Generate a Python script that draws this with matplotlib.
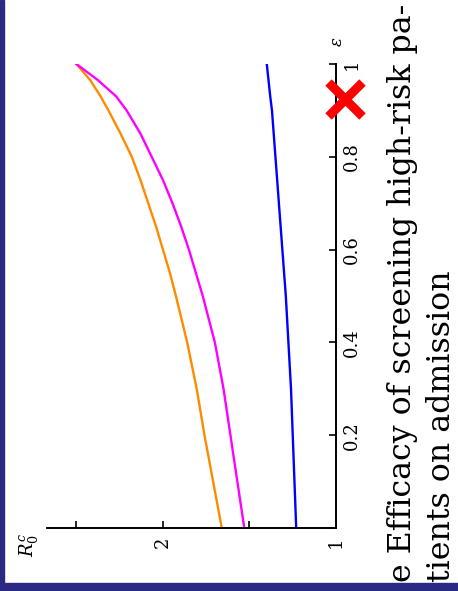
import matplotlib
matplotlib.use("Agg")
import matplotlib.pyplot as plt
from matplotlib.ticker import FixedLocator, NullFormatter

# Screening efficacy (epsilon) and the resulting control reproduction number
epsilon = [0.0, 0.1, 0.2, 0.3, 0.4, 0.5, 0.55, 0.6, 0.65, 0.7, 0.75, 0.8,
           0.85, 0.9, 0.93, 0.965, 1.0]
r0c_orange = [1.66, 1.71, 1.76, 1.805, 1.86, 1.925, 1.96, 2.00, 2.04, 2.085,
              2.13, 2.18, 2.245, 2.315, 2.36, 2.42, 2.50]
r0c_magenta = [1.53, 1.57, 1.61, 1.65, 1.70, 1.77, 1.81, 1.85, 1.895, 1.945,
               2.00, 2.065, 2.13, 2.21, 2.27, 2.375, 2.50]
r0c_blue = [1.23, 1.24, 1.25, 1.26, 1.275, 1.29, 1.30, 1.31, 1.32, 1.33,
            1.34, 1.35, 1.36, 1.37, 1.38, 1.39, 1.40]

r_major = [1, 2]
r_minor = [1.5, 2.5]
eps_ticks = [0.2, 0.4, 0.6, 0.8, 1.0]
eps_labels = ["0.2", "0.4", "0.6", "0.8", "1"]
marked_eps = 0.925

caption_1 = "e Efficacy of screening high-risk pa-"
caption_2 = "tients on admission"

plt.rcParams["font.family"] = "serif"
plt.rcParams["font.serif"] = ["DejaVu Serif", "Liberation Serif"]
plt.rcParams["mathtext.fontset"] = "dejavuserif"

W, H = 458, 591
fig = plt.figure(figsize=(W / 100, H / 100), dpi=100)
fig.patch.set_facecolor("white")

# dark frame on the left and bottom edges
navy = "#2a2a84"
fig.add_artist(plt.Rectangle((0, 0), 4 / W, 1, transform=fig.transFigure,
                             color=navy, zorder=0))
fig.add_artist(plt.Rectangle((0, 0), 1, 8 / H, transform=fig.transFigure,
                             color=navy, zorder=0))

# the plot is laid on its side: R0c runs right-to-left, epsilon bottom-to-top
left, right = 47 / W, 336 / W
bottom, top = 1 - 528 / H, 1 - 64 / H
ax = fig.add_axes([left, bottom, right - left, top - bottom])
ax.set_facecolor("white")

lw = 1.7
ax.plot(r0c_orange, epsilon, color="#ff8a00", lw=lw)
ax.plot(r0c_magenta, epsilon, color="#ff00ff", lw=lw)
ax.plot(r0c_blue, epsilon, color="#0000ff", lw=lw)

ax.set_xlim(2.67, 1.0)
ax.set_ylim(0.0, 1.0)

for s in ("left", "top"):
    ax.spines[s].set_visible(False)
for s in ("right", "bottom"):
    ax.spines[s].set_linewidth(1.4)
    ax.spines[s].set_color("black")

ax.xaxis.set_major_locator(FixedLocator(r_major))
ax.xaxis.set_minor_locator(FixedLocator(r_minor))
ax.xaxis.set_minor_formatter(NullFormatter())
ax.set_xticklabels([str(v) for v in r_major], rotation=90, fontsize=13)
ax.tick_params(axis="x", which="both", direction="in", length=5, width=1.2,
               pad=6)

ax.yaxis.tick_right()
ax.set_yticks(eps_ticks)
ax.set_yticklabels(eps_labels, rotation=90, va="center", fontsize=13)
ax.tick_params(axis="y", direction="in", length=5, width=1.2, pad=5)

# marked efficacy level on the epsilon axis
ax.plot([0.95], [marked_eps], marker="x", color="#ff0000", markersize=25,
        mew=6.5, clip_on=False, zorder=5)

# axis names
fig.text(337 / W, 1 - 42 / H, r"$\varepsilon$", rotation=90, fontsize=12,
         ha="center", va="center")
fig.text(29 / W, 1 - 545 / H, r"$R_0^c$", rotation=90, fontsize=13,
         ha="center", va="center")

# caption, set sideways in two lines
fig.text(403 / W, 1 - 582 / H, caption_1, rotation=90, fontsize=22.8,
         ha="center", va="bottom")
fig.text(442 / W, 1 - 582 / H, caption_2, rotation=90, fontsize=22.8,
         ha="center", va="bottom")

fig.savefig("out.png", dpi=100, facecolor="white")
